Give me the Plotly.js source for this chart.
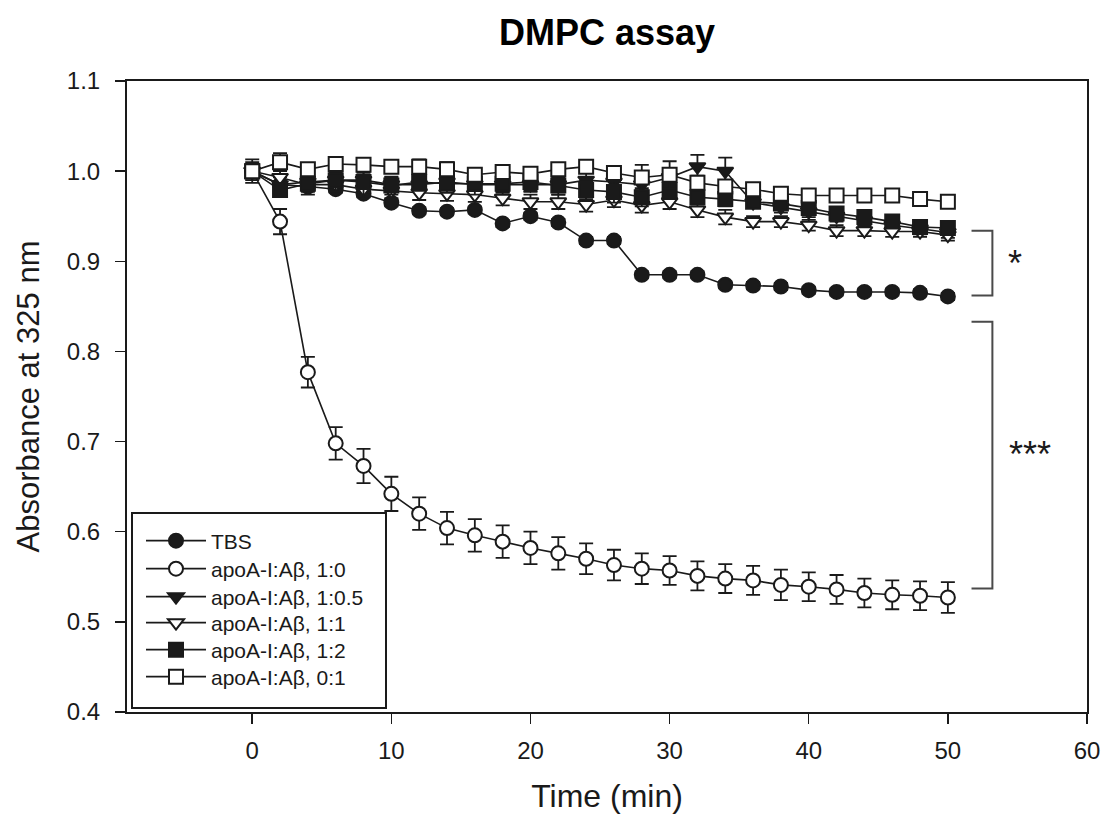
<!DOCTYPE html>
<html>
<head>
<meta charset="utf-8">
<script src="https://cdn.plot.ly/plotly-3.0.1.min.js"></script>
<style>html,body{margin:0;padding:0;background:#fff;}#chart{width:1102px;height:814px;}</style>
</head>
<body>
<div id="chart"></div>
<script>
// Time points (min)
const time = [0,2,4,6,8,10,12,14,16,18,20,22,24,26,28,30,32,34,36,38,40,42,44,46,48,50];

// Series names
const seriesNames = ["TBS", "apoA-I:Aβ, 1:0", "apoA-I:Aβ, 1:0.5", "apoA-I:Aβ, 1:1", "apoA-I:Aβ, 1:2", "apoA-I:Aβ, 0:1"];

// Absorbance values
const tbs      = [1.000,0.985,0.983,0.980,0.975,0.965,0.956,0.955,0.957,0.942,0.950,0.943,0.923,0.923,0.885,0.885,0.885,0.874,0.873,0.872,0.868,0.866,0.866,0.866,0.865,0.861];
const tbsErr   = [0.004,0.004,0.004,0.004,0.004,0.004,0.004,0.004,0.004,0.004,0.004,0.004,0.004,0.004,0.004,0.004,0.004,0.004,0.004,0.004,0.004,0.004,0.004,0.004,0.004,0.004];

const r1_0     = [1.000,0.944,0.777,0.698,0.673,0.642,0.620,0.604,0.596,0.589,0.582,0.576,0.570,0.563,0.559,0.557,0.551,0.548,0.546,0.541,0.539,0.536,0.532,0.530,0.529,0.527];
const r1_0Err  = [0.008,0.014,0.017,0.018,0.019,0.019,0.018,0.018,0.018,0.018,0.018,0.018,0.017,0.017,0.017,0.016,0.016,0.016,0.016,0.017,0.016,0.016,0.016,0.016,0.016,0.017];

const r1_05    = [1.000,0.985,0.988,0.990,0.990,0.985,0.985,0.988,0.985,0.985,0.985,0.985,0.990,0.988,0.985,0.993,1.005,1.000,0.965,0.960,0.955,0.950,0.945,0.940,0.936,0.932];
const r1_05Err = [0.006,0.008,0.008,0.008,0.008,0.008,0.008,0.008,0.008,0.008,0.008,0.008,0.008,0.008,0.008,0.008,0.013,0.015,0.006,0.006,0.006,0.006,0.006,0.006,0.006,0.006];

const r1_1     = [1.000,0.993,0.985,0.985,0.980,0.978,0.976,0.975,0.974,0.970,0.966,0.966,0.963,0.968,0.962,0.966,0.957,0.949,0.944,0.944,0.940,0.934,0.934,0.933,0.933,0.929];
const r1_1Err  = [0.008,0.008,0.008,0.008,0.008,0.008,0.008,0.008,0.008,0.008,0.008,0.008,0.008,0.008,0.008,0.008,0.008,0.008,0.006,0.006,0.006,0.006,0.006,0.006,0.006,0.006];

const r1_2     = [1.000,0.979,0.986,0.990,0.988,0.984,0.988,0.986,0.986,0.986,0.988,0.984,0.979,0.977,0.971,0.979,0.971,0.969,0.966,0.964,0.959,0.953,0.949,0.944,0.938,0.937];
const r1_2Err  = [0.013,0.006,0.012,0.013,0.014,0.010,0.010,0.010,0.012,0.010,0.010,0.010,0.010,0.012,0.010,0.010,0.008,0.008,0.006,0.006,0.006,0.006,0.006,0.006,0.006,0.006];

const r0_1     = [1.000,1.010,1.002,1.008,1.007,1.005,1.005,1.002,0.996,0.999,0.997,1.002,1.005,0.998,0.993,0.996,0.987,0.983,0.980,0.975,0.973,0.973,0.973,0.973,0.969,0.966];
const r0_1Err  = [0.010,0.010,0.004,0.005,0.006,0.006,0.008,0.008,0.004,0.004,0.004,0.004,0.004,0.004,0.014,0.015,0.008,0.004,0.003,0.003,0.003,0.003,0.003,0.003,0.003,0.003];

// Axis tick values
const xTicks = [0,10,20,30,40,50,60];
const yTicks = [0.4,0.5,0.6,0.7,0.8,0.9,1.0,1.1];

const FONT = "Liberation Sans, Arial, sans-serif";
const INK = "#1a1a1a";

const styles = [
  {symbol: "circle",        fill: INK},
  {symbol: "circle",        fill: "#ffffff"},
  {symbol: "triangle-down", fill: INK},
  {symbol: "triangle-down", fill: "#ffffff"},
  {symbol: "square",        fill: INK},
  {symbol: "square",        fill: "#ffffff"}
];
const values = [tbs, r1_0, r1_05, r1_1, r1_2, r0_1];
const errors = [tbsErr, r1_0Err, r1_05Err, r1_1Err, r1_2Err, r0_1Err];
const legendIds = ["legend","legend2","legend3","legend4","legend5","legend6"];

const traces = values.map((v, i) => ({
  type: "scatter",
  mode: "lines+markers",
  name: seriesNames[i],
  x: time,
  y: v,
  legend: legendIds[i],
  showlegend: true,
  line: {color: INK, width: 1.6},
  marker: {symbol: styles[i].symbol, size: 14, color: styles[i].fill, line: {color: INK, width: 2}},
  error_y: {type: "data", array: errors[i], visible: true, color: INK, thickness: 1.8, width: 7},
  cliponaxis: false
}));

// legend rows (pixel centre y of each row, converted to paper units)
const plotTop = 81, plotBottom = 712, plotLeft = 127, plotRight = 1087;
const plotH = plotBottom - plotTop, plotW = plotRight - plotLeft;
const rowPx = [541, 569, 597, 623, 650, 677];

const layout = {
  width: 1102,
  height: 814,
  showlegend: true,
  margin: {l: plotLeft, r: 1102 - plotRight, t: plotTop, b: 814 - plotBottom},
  paper_bgcolor: "#ffffff",
  plot_bgcolor: "#ffffff",
  font: {family: FONT, color: INK},
  title: {
    text: "<b>DMPC assay</b>",
    font: {family: FONT, size: 36, color: "#000"},
    x: 0.5, xref: "paper", xanchor: "center",
    y: 1 - 32 / 814, yref: "container", yanchor: "middle"
  },
  xaxis: {
    range: [-9, 60],
    tickvals: xTicks,
    ticks: "outside", ticklen: 10, tickwidth: 1.5, tickcolor: INK,
    showline: true, mirror: true, linewidth: 2, linecolor: INK,
    showgrid: false, zeroline: false,
    tickfont: {family: FONT, size: 24, color: INK},
    ticklabelstandoff: 6,
    title: {text: "Time (min)", font: {family: FONT, size: 32, color: INK}, standoff: 22}
  },
  yaxis: {
    range: [0.4, 1.1],
    tickvals: yTicks,
    tickformat: ".1f",
    ticks: "outside", ticklen: 10, tickwidth: 1.5, tickcolor: INK,
    showline: true, mirror: true, linewidth: 2, linecolor: INK,
    showgrid: false, zeroline: false,
    tickfont: {family: FONT, size: 24, color: INK},
    ticklabelstandoff: 10,
    title: {text: "Absorbance at 325 nm", font: {family: FONT, size: 31, color: INK}, standoff: 18}
  },
  shapes: [
    // legend frame
    {type: "rect", xref: "paper", yref: "paper",
     x0: (132 - plotLeft) / plotW, x1: (386 - plotLeft) / plotW,
     y0: (plotBottom - 708) / plotH, y1: (plotBottom - 513) / plotH,
     line: {color: INK, width: 2}, fillcolor: "rgba(0,0,0,0)"},
    // significance brackets
    {type: "path", xref: "x", yref: "y", path: "M 51.7 0.934 L 53.2 0.934 L 53.2 0.862 L 51.7 0.862",
     line: {color: "#4a4a4a", width: 2}},
    {type: "path", xref: "x", yref: "y", path: "M 51.7 0.833 L 53.2 0.833 L 53.2 0.537 L 51.7 0.537",
     line: {color: "#4a4a4a", width: 2}}
  ],
  annotations: [
    {text: "*", x: 54.8, y: 0.905, xref: "x", yref: "y", showarrow: false,
     font: {family: FONT, size: 36, color: INK}, xanchor: "center", yanchor: "middle", yshift: -7},
    {text: "***", x: 55.9, y: 0.693, xref: "x", yref: "y", showarrow: false,
     font: {family: FONT, size: 36, color: INK}, xanchor: "center", yanchor: "middle", yshift: -7}
  ]
};

legendIds.forEach((id, i) => {
  layout[id] = {
    visible: true,
    x: (141 - plotLeft) / plotW,
    y: (plotBottom - rowPx[i]) / plotH,
    xanchor: "left", yanchor: "middle",
    bgcolor: "rgba(0,0,0,0)", borderwidth: 0,
    itemwidth: 60,
    font: {family: FONT, size: 21, color: INK}
  };
});

Plotly.newPlot("chart", traces, layout, {displayModeBar: false, staticPlot: true});
</script>
</body>
</html>
